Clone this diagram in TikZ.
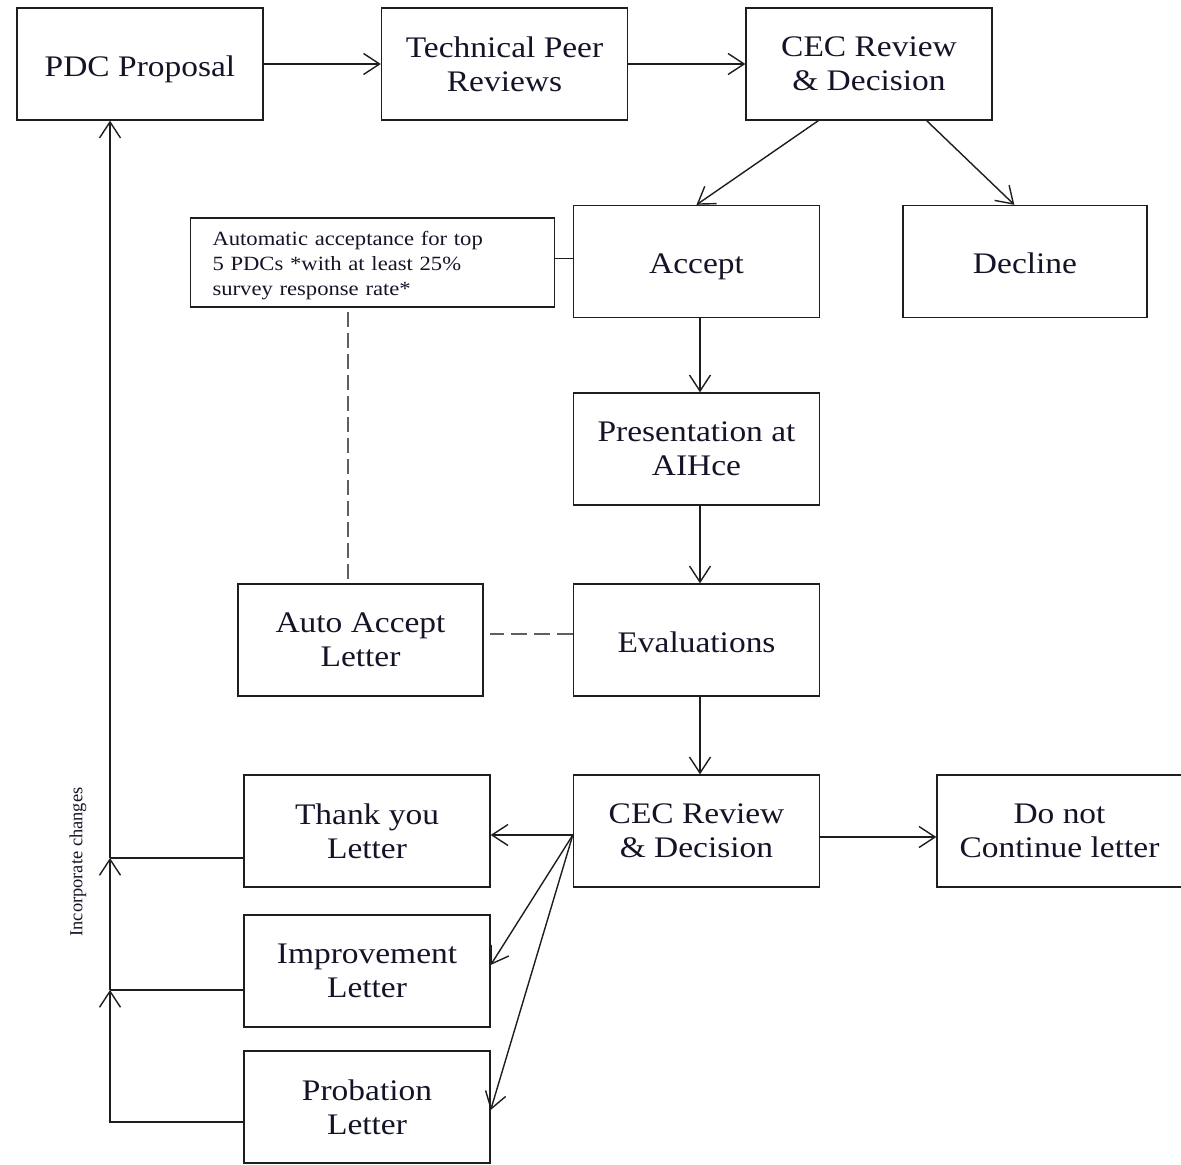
\documentclass[tikz,border=0pt]{standalone}
\usepackage{fontspec}
\setmainfont{Liberation Serif}[FakeStretch=1.12]
\newfontfamily\plainserif{Liberation Serif}
\usetikzlibrary{arrows.meta,calc}
\definecolor{ink}{RGB}{30,30,30}
\definecolor{txt}{RGB}{20,20,40}
\definecolor{dashgray}{RGB}{95,95,95}
\tikzset{
  x=0.02cm, y=-0.02cm,
  stepbox/.style={draw=ink, line width=0.8pt, minimum width=4.92cm, minimum height=2.24cm,
    inner sep=2pt, align=center, text=txt, font=\fontsize{17}{19.3}\selectfont},
  oneline/.style={text height=14pt, text depth=0pt},
  notebox/.style={draw=ink, line width=0.8pt, text width=6.4cm, inner xsep=0.44cm,
    minimum height=1.78cm, align=left, text=txt, font=\fontsize{11.5}{14.2}\selectfont},
  conn/.style={draw=ink, line width=0.8pt},
  arr/.style={conn, -{Straight Barb[length=3.2mm,width=4.2mm]}},
  dashline/.style={draw=dashgray, line width=0.9pt, dash pattern=on 3.1mm off 1.1mm},
  hdashline/.style={draw=dashgray, line width=0.9pt, dash pattern=on 3.2mm off 1.4mm}
}
\begin{document}
\begin{tikzpicture}
\useasboundingbox (0,0) rectangle (1181,1165);
% top row
\node[stepbox, oneline] (pdc) at (140,64) {PDC Proposal};
\node[stepbox] (tech) at (504.5,64) {Technical Peer\\Reviews};
\node[stepbox] (cec1) at (869,64) {CEC Review\\\& Decision};
% second row
\node[stepbox, oneline] (accept) at (696.5,261.5) {Accept};
\node[stepbox, oneline, minimum width=4.88cm] (decline) at (1025,261.5) {Decline};
\node[notebox] (note) at (372.5,262.5) {\rule{0pt}{12pt}Automatic acceptance for top\\5 PDCs *with at least 25\%\\survey response rate*};
% middle
\node[stepbox] (pres) at (696.5,449) {Presentation at\\AIHce};
\node[stepbox, oneline] (eval) at (696.5,640) {Evaluations};
\node[stepbox, minimum width=4.9cm] (auto) at (360.5,640) {Auto Accept\\Letter};
% bottom
\node[stepbox] (cec2) at (696.5,831) {CEC Review\\\& Decision};
\node[stepbox, minimum width=4.9cm] (donot) at (1059.5,831) {Do not\\Continue letter};
\node[stepbox] (thank) at (367,831) {Thank you\\Letter};
\node[stepbox] (impr) at (367,971) {Improvement\\Letter};
\node[stepbox] (prob) at (367,1107) {Probation\\Letter};
% label
\node[rotate=90, text=txt, font=\plainserif\fontsize{10.5}{12}\selectfont] (inc) at (78,862) {Incorporate changes};
% connectors top
\draw[arr] (pdc.east) -- (tech.west);
\draw[arr] (tech.east) -- (cec1.west);
\draw[arr] ($(cec1.south west)+(73,0)$) -- (accept.north);
\draw[arr] ($(cec1.south east)+(-66,0)$) -- ($(decline.north west)+(112,0)$);
\draw[conn] ($(note.east)+(0,-4)$) -- ($(accept.west)+(0,-3)$);
\draw[arr] ($(accept.south)+(3.5,0)$) -- ($(pres.north)+(3.5,0)$);
\draw[arr] ($(pres.south)+(3.5,0)$) -- ($(eval.north)+(3.5,0)$);
\draw[arr] ($(eval.south)+(3.5,0)$) -- ($(cec2.north)+(3.5,0)$);
% dashed
\coordinate (nd) at ($(note.south west)+(158,4)$);
\draw[dashline] (nd) -- (nd |- auto.north);
\draw[hdashline] ($(eval.west)+(0,-6)$) -- ($(auto.east)+(6,-6)$);
% decision fan
\coordinate (fan) at ($(cec2.west)+(0,4)$);
\draw[arr] (fan) -- (fan -| thank.east);
\draw[arr] (fan) -- ($(impr.east)+(0,-6)$);
\draw[arr] (fan) -- ($(prob.east)+(0,3)$);
\draw[arr] ($(cec2.east)+(0,6)$) -- ($(donot.west)+(0,6)$);
% feedback loop
\coordinate (j1) at (110,858);
\coordinate (j2) at (110,990);
\coordinate (j3) at (110,1122);
\draw[conn] (thank.west |- j1) -- (j1);
\draw[conn] (impr.west |- j2) -- (j2);
\draw[arr] (prob.west |- j3) -- (j3) -- (j2);
\draw[arr] (j2) -- (j1);
\draw[arr] (j1) -- (j1 |- pdc.south);
\end{tikzpicture}
\end{document}
